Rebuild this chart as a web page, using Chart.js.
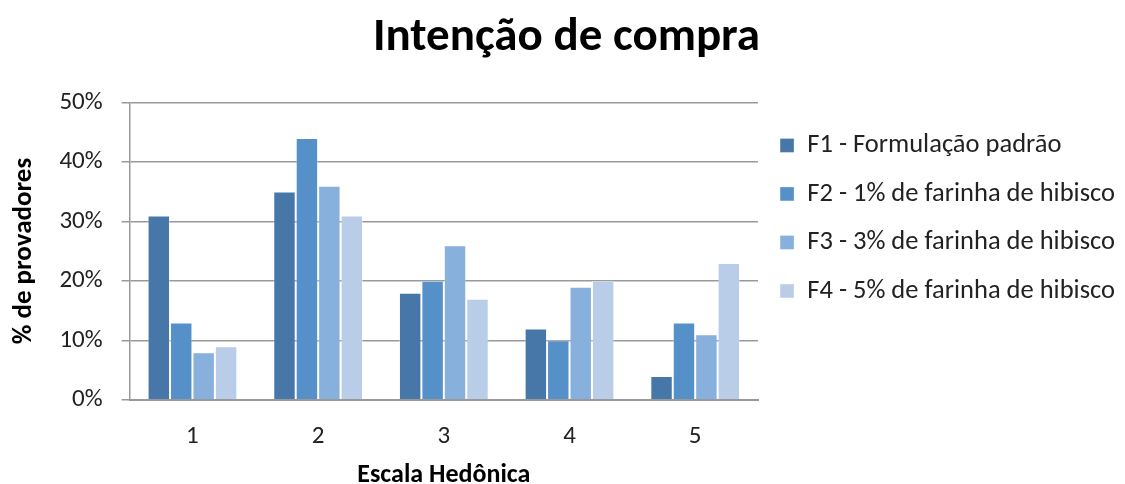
<!DOCTYPE html>
<html>
<head>
<meta charset="utf-8">
<script src="https://cdn.jsdelivr.net/npm/chart.js@4"></script>
<style>
  html, body { margin: 0; padding: 0; background: #fff; }
</style>
</head>
<body>
<canvas id="compraChart" width="1125" height="484"></canvas>
<script>
// Data
const categories = ['1', '2', '3', '4', '5'];
const f1 = [31, 35, 18, 12, 4];
const f2 = [13, 44, 20, 10, 13];
const f3 = [8, 36, 26, 19, 11];
const f4 = [9, 31, 17, 20, 23];
const seriesNames = [
  'F1 - Formulação padrão',
  'F2 - 1% de farinha de hibisco',
  'F3 - 3% de farinha de hibisco',
  'F4 - 5% de farinha de hibisco'
];
const seriesColors = ['#4677A8', '#5591C8', '#88B0DC', '#B9CDE8'];

const FONT = 'Carlito, Calibri, Lato, "Open Sans", sans-serif';
Chart.defaults.font.family = FONT;
Chart.defaults.color = '#222';

const ctx = document.getElementById('compraChart').getContext('2d');

new Chart(ctx, {
  type: 'bar',
  data: {
    labels: categories,
    datasets: [f1, f2, f3, f4].map((vals, i) => ({
      label: seriesNames[i],
      data: vals,
      backgroundColor: seriesColors[i],
      borderColor: 'rgba(255,255,255,0.35)',
      borderWidth: 1,
      categoryPercentage: 0.714,
      barPercentage: 1.0,
    })),
  },
  options: {
    responsive: false,
    animation: false,
    layout: { padding: { left: 8, right: 0, top: 6, bottom: 0 } },
    plugins: {
      title: {
        display: true,
        text: 'Intenção de compra',
        color: '#000',
        font: { size: 47, weight: 'bold', family: FONT },
        padding: { top: 4, bottom: 36 },
      },
      legend: {
        position: 'right',
        align: 'start',
        maxWidth: 420,
        // spacer title pushes the entries down next to the plot
        title: { display: true, text: ' ', font: { size: 6 }, padding: { top: 0, bottom: 97 } },
        labels: {
          boxWidth: 14,
          boxHeight: 14,
          padding: 22,
          color: '#222',
          font: { size: 26.5 },
        },
      },
      tooltip: { enabled: false },
    },
    scales: {
      x: {
        grid: { display: false, drawTicks: false },
        border: { display: true, color: '#999', width: 2 },
        ticks: { padding: 22, font: { size: 25 }, color: '#222' },
        title: {
          display: true,
          text: 'Escala Hedônica',
          color: '#000',
          font: { size: 26, weight: 'bold' },
          padding: { top: -14, bottom: -7 },
        },
      },
      y: {
        min: 0,
        max: 50,
        ticks: {
          stepSize: 10,
          padding: 19,
          font: { size: 25 },
          color: '#222',
          callback: v => v + '%',
        },
        grid: { color: '#999', lineWidth: 1.5, tickLength: 8 },
        border: { display: true, color: '#999', width: 1.5 },
        title: {
          display: true,
          text: '% de provadores',
          color: '#000',
          font: { size: 27, weight: 'bold' },
          padding: { top: 0, bottom: 0 },
        },
      },
    },
  },
});
</script>
</body>
</html>
